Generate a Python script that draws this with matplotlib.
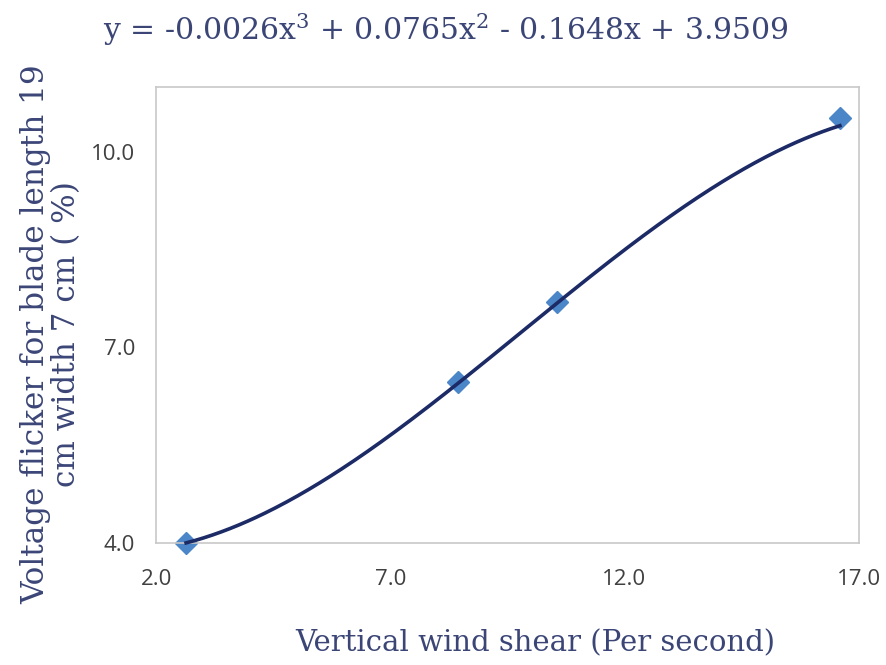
import numpy as np
import matplotlib
matplotlib.use("Agg")
import matplotlib.pyplot as plt

x_vals = [2.64, 8.45, 10.55, 16.6]
y_vals = [4.0, 6.47, 7.70, 10.52]
coeffs = [-0.0026, 0.0765, -0.1648, 3.9509]
x_ticks = [2.0, 7.0, 12.0, 17.0]
y_ticks = [4.0, 7.0, 10.0]
title = "y = -0.0026x$^3$ + 0.0765x$^2$ - 0.1648x + 3.9509"
xlabel = "Vertical wind shear (Per second)"
ylabel = "Voltage flicker for blade length 19\ncm width 7 cm ( %)"

text_color = "#3b4677"
fig = plt.figure(figsize=(8.87, 6.65), dpi=100)
ax = fig.add_axes([0.176, 0.1835, 0.792, 0.686])

xs = np.linspace(min(x_vals), max(x_vals), 300)
ys = np.polyval(coeffs, xs)
ax.plot(x_vals, y_vals, linestyle="none", marker="D", markersize=11.5,
        color="#4a86c8", zorder=2, clip_on=False)
ax.plot(xs, ys, color="#1c2a66", linewidth=2.6, zorder=3, clip_on=False)

ax.set_xlim(2, 17)
ax.set_ylim(4, 11)
ax.set_xticks(x_ticks)
ax.set_yticks(y_ticks)
ax.set_xticklabels([f"{v:.1f}" for v in x_ticks])
ax.set_yticklabels([f"{v:.1f}" for v in y_ticks])
ax.tick_params(length=0, labelsize=16, colors="#404040")
for lab in ax.get_xticklabels() + ax.get_yticklabels():
    lab.set_fontfamily("Open Sans")
ax.tick_params(axis="x", pad=19)
ax.tick_params(axis="y", pad=15)
for s in ax.spines.values():
    s.set_color("#c8c8c8")
    s.set_linewidth(1.2)

fig.text(0.503, 0.955, title, ha="center", va="center", fontsize=21.5,
         family="DejaVu Serif", color=text_color, math_fontfamily="dejavuserif")
fig.text(0.603, 0.033, xlabel, ha="center", va="center", fontsize=21,
         family="DejaVu Serif", color=text_color)
fig.text(0.058, 0.497, ylabel, ha="center", va="center", fontsize=22.4,
         family="DejaVu Serif", color=text_color, rotation=90, linespacing=1.0)

fig.savefig("out.png", dpi=100)
